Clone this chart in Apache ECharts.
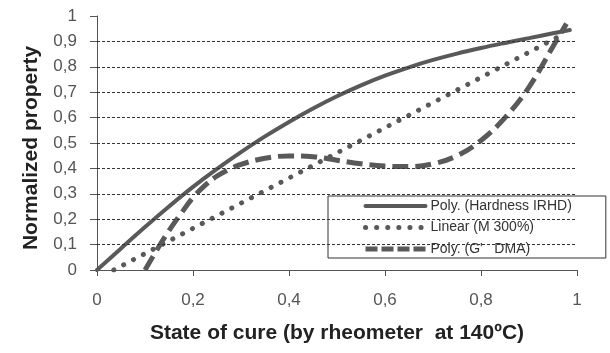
<!DOCTYPE html>
<html>
<head>
<meta charset="utf-8">
<script src="https://cdn.jsdelivr.net/npm/echarts@6/dist/echarts.min.js"></script>
<style>
  html, body { margin: 0; padding: 0; background: #fff; }
  #chart { width: 610px; height: 353px; }
</style>
</head>
<body>
<div id="chart"></div>
<script>
// Series names shown in the legend
const seriesNames = ['Poly. (Hardness IRHD)', 'Linear (M 300%)', "Poly. (G'   DMA)"];

// Hardness IRHD trend: [state of cure, normalized property]
const hardness = [
  [0, 0], [0.05, 0.085], [0.1, 0.169], [0.15, 0.25], [0.2, 0.327], [0.25, 0.398],
  [0.3, 0.464], [0.35, 0.526], [0.4, 0.583], [0.45, 0.636], [0.5, 0.684],
  [0.55, 0.727], [0.6, 0.765], [0.65, 0.798], [0.7, 0.827], [0.75, 0.852],
  [0.8, 0.874], [0.85, 0.894], [0.9, 0.913], [0.95, 0.932], [0.985, 0.945]
];

// M 300% linear trend
const modulus300 = [
  [0.035, 0], [0.2, 0.164], [0.4, 0.362], [0.6, 0.56], [0.8, 0.758], [0.96, 0.917]
];

// G' (DMA) trend
const gPrimeDma = [
  [0.1, 0], [0.125, 0.08], [0.15, 0.155], [0.175, 0.222], [0.2, 0.285], [0.225, 0.333],
  [0.25, 0.37], [0.275, 0.396], [0.3, 0.416], [0.35, 0.44], [0.4, 0.449],
  [0.45, 0.446], [0.5, 0.432], [0.55, 0.418], [0.6, 0.409], [0.65, 0.407],
  [0.7, 0.418], [0.75, 0.45], [0.8, 0.51], [0.85, 0.6], [0.9, 0.72],
  [0.95, 0.88], [0.978, 0.97]
];

// Dashed horizontal reference levels
const gridLevels = [0.1, 0.2, 0.3, 0.4, 0.5, 0.6, 0.7, 0.8, 0.9];

// Axis titles
const xTitle = 'State of cure (by rheometer  at 140\u00BAC)';
const yTitle = 'Normalized property';

const lineColor = '#595959';
const axisColor = '#555';
const font = 'Liberation Sans, Arial, sans-serif';

// line styles shared by the series and their legend samples
const solidStyle = { color: lineColor, width: 4, cap: 'round' };
const dottedStyle = { color: lineColor, width: 5, type: [0.1, 11], cap: 'round' };
const dashedStyle = { color: lineColor, width: 5, type: [16, 7] };
const dashedLegendStyle = { color: lineColor, width: 5, type: [12, 4] };

// decimal comma tick labels
const commaFmt = v => String(+v.toFixed(1)).replace('.', ',');

const chart = echarts.init(document.getElementById('chart'), null, { renderer: 'canvas' });

const hiddenMarker = { opacity: 0 };

chart.setOption({
  animation: false,
  backgroundColor: '#fff',
  grid: { left: 97, right: 33, top: 16, bottom: 83 },
  xAxis: {
    type: 'value', min: 0, max: 1, interval: 0.2,
    name: xTitle, nameLocation: 'middle', nameGap: 53,
    nameTextStyle: { fontFamily: font, fontSize: 21, fontWeight: 'bold', color: '#222' },
    axisLine: { lineStyle: { color: axisColor, width: 1 } },
    axisTick: { show: true, length: 6, lineStyle: { color: axisColor } },
    axisLabel: { margin: 22, fontFamily: font, fontSize: 17, color: '#555', formatter: commaFmt },
    splitLine: { show: false }
  },
  yAxis: {
    type: 'value', min: 0, max: 1, interval: 0.1,
    name: yTitle, nameLocation: 'middle', nameGap: 55, nameRotate: 90,
    nameTextStyle: { fontFamily: font, fontSize: 21, fontWeight: 'bold', color: '#222', padding: [0, 0, 0, -10] },
    axisLine: { show: true, lineStyle: { color: axisColor, width: 1 } },
    axisTick: { show: true, length: 7, lineStyle: { color: axisColor } },
    axisLabel: { margin: 20, fontFamily: font, fontSize: 17, color: '#555', formatter: commaFmt },
    splitLine: { show: false }
  },
  legend: {
    orient: 'vertical',
    left: 328, top: 196,
    padding: [3, 34, 2, 35],
    itemWidth: 60, itemHeight: 14, itemGap: 7.5,
    backgroundColor: '#fff',
    borderColor: '#333', borderWidth: 1,
    textStyle: { fontFamily: font, fontSize: 14, color: '#333' },
    itemStyle: hiddenMarker,
    data: [
      { name: seriesNames[0], lineStyle: solidStyle, itemStyle: hiddenMarker },
      { name: seriesNames[1], lineStyle: dottedStyle, itemStyle: hiddenMarker },
      { name: seriesNames[2], lineStyle: dashedLegendStyle, itemStyle: hiddenMarker }
    ]
  },
  series: [
    {
      name: seriesNames[0], type: 'line', data: hardness,
      smooth: 0.4, symbol: 'none', z: 3,
      lineStyle: solidStyle,
      itemStyle: { color: lineColor },
      markLine: {
        silent: true, symbol: 'none', label: { show: false },
        lineStyle: { color: '#333', width: 1, type: [3, 2] },
        data: gridLevels.map(v => ({ yAxis: v }))
      }
    },
    {
      name: seriesNames[1], type: 'line', data: modulus300,
      symbol: 'none', z: 3,
      lineStyle: dottedStyle,
      itemStyle: { color: lineColor }
    },
    {
      name: seriesNames[2], type: 'line', data: gPrimeDma,
      smooth: 0.4, symbol: 'none', z: 3,
      lineStyle: dashedStyle,
      itemStyle: { color: lineColor }
    }
  ]
});
</script>
</body>
</html>
